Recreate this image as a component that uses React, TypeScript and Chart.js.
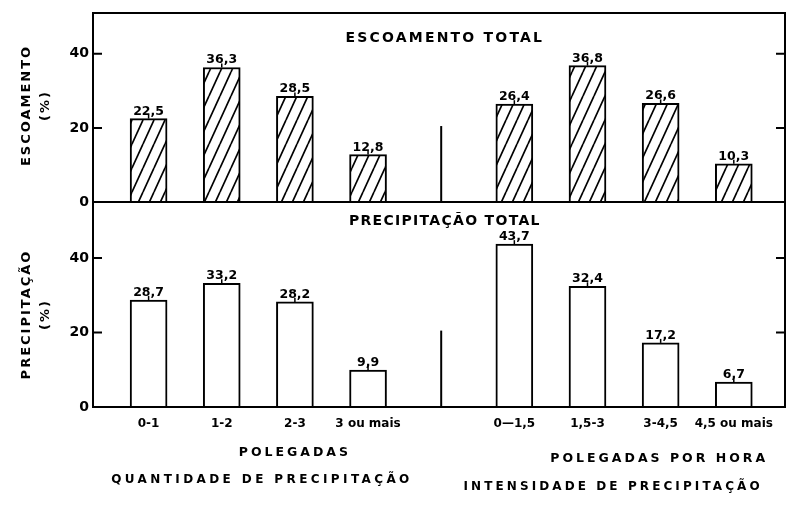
import React, { useEffect, useRef } from 'react';
import { Chart, registerables } from 'chart.js';

Chart.register(...registerables);

// ---- data ----
const CATEGORY_POS = [0, 1, 2, 3, 5, 6, 7, 8];
const CATEGORY_LABELS = ['0-1', '1-2', '2-3', '3 ou mais', '0—1,5', '1,5-3', '3-4,5', '4,5 ou mais'];
const ESCOAMENTO = [22.5, 36.3, 28.5, 12.8, 26.4, 36.8, 26.6, 10.3];
const PRECIPITACAO = [28.7, 33.2, 28.2, 9.9, 43.7, 32.4, 17.2, 6.7];
const Y_TICKS = [0, 20, 40];
const DIVIDER_POS = 4;
const DIVIDER_TOP = [0, 20.5];
const DIVIDER_BOTTOM = [0, 20.5];
const PANEL_TITLES = ['ESCOAMENTO TOTAL', 'PRECIPITAÇÃO TOTAL'];
const Y_TITLES_TOP = ['ESCOAMENTO', '(%)'];
const Y_TITLES_BOTTOM = ['PRECIPITAÇÃO', '(%)'];
const GROUP_UNITS = ['POLEGADAS', 'POLEGADAS POR HORA'];
const GROUP_TITLES = ['QUANTIDADE DE PRECIPITAÇÃO', 'INTENSIDADE DE PRECIPITAÇÃO'];

const FONT = '"DejaVu Sans", sans-serif';
const fmt = (v: number) => v.toFixed(1).replace('.', ',');

function makeHatch(): CanvasPattern | string {
  const w = 11, h = 24;
  const c = document.createElement('canvas');
  c.width = w; c.height = h;
  const g = c.getContext('2d');
  if (!g) return '#fff';
  g.fillStyle = '#fff';
  g.fillRect(0, 0, w, h);
  g.strokeStyle = '#000';
  g.lineWidth = 1.7;
  for (const dx of [-w, 0, w]) {
    g.beginPath();
    g.moveTo(dx, h);
    g.lineTo(dx + w, 0);
    g.stroke();
  }
  return g.createPattern(c, 'repeat') || '#fff';
}

function drawVerticalTitle(ctx: any, lines: string[], xs: number[], cy: number) {
  lines.forEach((t, i) => {
    ctx.save();
    ctx.translate(xs[i], cy);
    ctx.rotate(-Math.PI / 2);
    ctx.fillText(t, 0, 0);
    ctx.restore();
  });
}

const framePlugin = {
  id: 'framePlugin',
  afterDraw(chart: any) {
    const ctx = chart.ctx;
    const ca = chart.chartArea;
    const x = chart.scales.x;
    const yTop = chart.scales.yTop;
    const yBot = chart.scales.yBot;
    ctx.save();
    ctx.strokeStyle = '#000';
    ctx.lineWidth = 2;
    ctx.strokeRect(ca.left, ca.top, ca.right - ca.left, ca.bottom - ca.top);
    const mid = yTop.getPixelForValue(0);
    ctx.beginPath();
    ctx.moveTo(ca.left, mid);
    ctx.lineTo(ca.right, mid);
    ctx.stroke();
    // inward ticks
    for (const s of [yTop, yBot]) {
      for (const v of Y_TICKS) {
        if (v === 0) continue;
        const py = s.getPixelForValue(v);
        ctx.beginPath();
        ctx.moveTo(ca.left, py);
        ctx.lineTo(ca.left + 9, py);
        ctx.moveTo(ca.right, py);
        ctx.lineTo(ca.right - 9, py);
        ctx.stroke();
      }
    }
    // bar value labels
    ctx.fillStyle = '#000';
    ctx.textAlign = 'center';
    ctx.textBaseline = 'alphabetic';
    ctx.font = `bold 12.5px ${FONT}`;
    ctx.letterSpacing = '0px';
    ctx.lineWidth = 1.5;
    [ESCOAMENTO, PRECIPITACAO].forEach((vals, di) => {
      const meta = chart.getDatasetMeta(di);
      meta.data.forEach((bar: any, j: number) => {
        ctx.beginPath();
        ctx.moveTo(bar.x, bar.y);
        ctx.lineTo(bar.x, bar.y - 4);
        ctx.stroke();
        ctx.fillText(fmt(vals[j]), bar.x, bar.y - 4);
      });
    });
    // y-axis titles
    ctx.textBaseline = 'middle';
    ctx.font = `bold 13px ${FONT}`;
    ctx.letterSpacing = '2px';
    drawVerticalTitle(ctx, Y_TITLES_TOP, [27, 46], (ca.top + mid) / 2 - 2);
    drawVerticalTitle(ctx, Y_TITLES_BOTTOM, [27, 46], (mid + ca.bottom) / 2 + 10);
    // panel titles
    ctx.font = `bold 14px ${FONT}`;
    ctx.letterSpacing = '2.2px';
    ctx.fillText(PANEL_TITLES[0], x.getPixelForValue(4.05), ca.top + 25);
    ctx.letterSpacing = '1.3px';
    ctx.fillText(PANEL_TITLES[1], x.getPixelForValue(4.05), mid + 19);
    // group titles under the axis
    ctx.font = `bold 12.5px ${FONT}`;
    ctx.letterSpacing = '3px';
    ctx.fillText(GROUP_UNITS[0], x.getPixelForValue(2.0), ca.bottom + 46);
    ctx.fillText(GROUP_UNITS[1], x.getPixelForValue(6.98), ca.bottom + 52);
    ctx.font = `bold 12px ${FONT}`;
    ctx.letterSpacing = '3.4px';
    ctx.fillText(GROUP_TITLES[0], x.getPixelForValue(1.55), ca.bottom + 73);
    ctx.letterSpacing = '3.1px';
    ctx.fillText(GROUP_TITLES[1], x.getPixelForValue(6.35), ca.bottom + 80);
    ctx.restore();
  },
};

function yScale(max: number, weight: number) {
  return {
    type: 'linear',
    position: 'left',
    stack: 'panels',
    stackWeight: weight,
    min: 0,
    max,
    afterBuildTicks: (s: any) => {
      s.ticks = Y_TICKS.map((v) => ({ value: v }));
    },
    afterFit: (s: any) => {
      s.width = 93;
    },
    grid: { display: false, drawTicks: false },
    border: { display: false },
    ticks: {
      padding: 4,
      color: '#000',
      font: { family: FONT, size: 14, weight: 'bold' },
    },
  };
}

export default function App() {
  const ref = useRef<HTMLCanvasElement>(null);
  useEffect(() => {
    if (!ref.current) return;
    const hatch = makeHatch();
    const chart = new Chart(ref.current, {
      type: 'bar',
      data: {
        datasets: [
          {
            label: 'Escoamento',
            data: CATEGORY_POS.map((x, i) => ({ x, y: ESCOAMENTO[i] })),
            xAxisID: 'x',
            yAxisID: 'yTop',
            backgroundColor: hatch as any,
            borderColor: '#000',
            borderWidth: 2,
            barThickness: 37,
            grouped: false,
          },
          {
            label: 'Precipitação',
            data: CATEGORY_POS.map((x, i) => ({ x, y: PRECIPITACAO[i] })),
            xAxisID: 'x',
            yAxisID: 'yBot',
            backgroundColor: '#fff',
            borderColor: '#000',
            borderWidth: 2,
            barThickness: 37,
            grouped: false,
          },
          {
            type: 'line',
            label: 'div1',
            data: DIVIDER_TOP.map((y) => ({ x: DIVIDER_POS, y })),
            xAxisID: 'x',
            yAxisID: 'yTop',
            borderColor: '#000',
            borderWidth: 2,
            pointRadius: 0,
          },
          {
            type: 'line',
            label: 'div2',
            data: DIVIDER_BOTTOM.map((y) => ({ x: DIVIDER_POS, y })),
            xAxisID: 'x',
            yAxisID: 'yBot',
            borderColor: '#000',
            borderWidth: 2,
            pointRadius: 0,
          },
        ] as any,
      },
      options: {
        animation: false,
        responsive: false,
        maintainAspectRatio: false,
        layout: { padding: { top: 13, right: 4, left: 0, bottom: 0 } },
        plugins: { legend: { display: false }, tooltip: { enabled: false } },
        scales: {
          x: {
            type: 'linear',
            offset: false,
            min: -0.76,
            max: 8.7,
            afterBuildTicks: (s: any) => {
              s.ticks = CATEGORY_POS.map((v) => ({ value: v }));
            },
            afterFit: (s: any) => {
              s.height = 100;
            },
            grid: { display: false, drawTicks: false, offset: false },
            border: { display: false },
            ticks: {
              autoSkip: false,
              maxRotation: 0,
              padding: 10,
              color: '#000',
              font: { family: FONT, size: 12, weight: 'bold' },
              callback: (v: any) => {
                const i = CATEGORY_POS.indexOf(Number(v));
                return i >= 0 ? CATEGORY_LABELS[i] : '';
              },
            },
          },
          yBot: yScale(55, 205.5),
          yTop: yScale(51, 189.5),
        } as any,
      },
      plugins: [framePlugin],
    });
    return () => chart.destroy();
  }, []);
  return (
    <div style={{ position: 'fixed', left: 0, top: 0, width: 789, height: 507, background: '#fff' }}>
      <canvas ref={ref} width={789} height={507} />
    </div>
  );
}
